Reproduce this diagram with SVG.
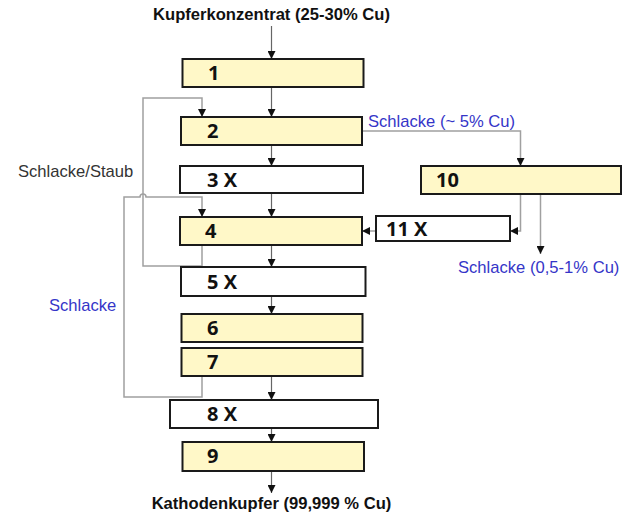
<svg xmlns="http://www.w3.org/2000/svg" width="632" height="531" viewBox="0 0 632 531">
<defs>
<marker id="ah" markerUnits="userSpaceOnUse" markerWidth="8" markerHeight="8" viewBox="0 0 8 8" refX="8" refY="4" orient="auto">
<path d="M0,0 L8,4 L0,8 Z" fill="#111"/>
</marker>
<style>
.box{stroke:#1a1a1a;stroke-width:2}
.y{fill:#FFF8C8}
.w{fill:#fff}
.lbl{font-family:"Open Sans","Liberation Sans",sans-serif;font-weight:700;font-size:20px;fill:#111}
.ttl{font-family:"Liberation Sans",Arial,sans-serif;font-weight:700;font-size:16.6px;fill:#111}
.side{font-family:"Liberation Sans",Arial,sans-serif;font-size:16.6px;fill:#333}
.blue{fill:#3535C8}
.c{fill:none;stroke:#666;stroke-width:1.2}
.g{fill:none;stroke:#a0a0a0;stroke-width:1.5}
</style>
</defs>
<rect width="632" height="531" fill="#fff"/>

<g id="connectors">
<path class="c" d="M271.5,26 V59" marker-end="url(#ah)"/>
<path class="c" d="M271.5,87 V117" marker-end="url(#ah)"/>
<path class="c" d="M271.5,145 V166" marker-end="url(#ah)"/>
<path class="c" d="M271.5,193 V217" marker-end="url(#ah)"/>
<path class="c" d="M271.5,245 V267" marker-end="url(#ah)"/>
<path class="c" d="M271.5,296 V314" marker-end="url(#ah)"/>
<path class="c" d="M271.5,376 V400" marker-end="url(#ah)"/>
<path class="c" d="M271.5,428 V442" marker-end="url(#ah)"/>
<path class="c" d="M271.5,471 V493" marker-end="url(#ah)"/>
<path class="g" d="M202,245 V266 H143 V98 H202 V117" marker-end="url(#ah)"/>
<path class="g" d="M202,376 V397 H124 V197 H140 A3,3 0 0 1 146,197 H202 V217" marker-end="url(#ah)"/>
<path class="g" d="M362,131 H520.5 V166" marker-end="url(#ah)"/>
<path class="g" d="M520.5,194 V231 H510" marker-end="url(#ah)"/>
<path class="g" d="M540.5,194 V254" marker-end="url(#ah)"/>
<path class="g" d="M376,231 H362" marker-end="url(#ah)"/>
</g>

<text class="ttl" x="271.5" y="20" text-anchor="middle">Kupferkonzentrat (25-30% Cu)</text>
<text class="ttl" x="271.5" y="509" text-anchor="middle">Kathodenkupfer (99,999 % Cu)</text>
<text class="side" x="18" y="177">Schlacke/Staub</text>
<text class="side blue" x="49" y="311">Schlacke</text>
<text class="side blue" x="368" y="127">Schlacke (~ 5% Cu)</text>
<text class="side blue" x="458" y="273">Schlacke (0,5-1% Cu)</text>

<g id="n1"><rect class="box y" x="182.5" y="59" width="181" height="28"/><text class="lbl" x="208" y="80">1</text></g>
<g id="n2"><rect class="box y" x="181" y="117" width="181" height="28"/><text class="lbl" x="207" y="138">2</text></g>
<g id="n3"><rect class="box w" x="180" y="166" width="183" height="27"/><text class="lbl" x="207" y="187">3 X</text></g>
<g id="n4"><rect class="box y" x="180" y="217" width="182" height="28"/><text class="lbl" x="205" y="238">4</text></g>
<g id="n5"><rect class="box w" x="181" y="267" width="184.5" height="29"/><text class="lbl" x="207" y="289">5 X</text></g>
<g id="n6"><rect class="box y" x="181.5" y="314" width="181" height="28"/><text class="lbl" x="207" y="335">6</text></g>
<g id="n7"><rect class="box y" x="181.5" y="348" width="181" height="28"/><text class="lbl" x="207" y="369">7</text></g>
<g id="n8"><rect class="box w" x="170" y="400" width="208" height="28"/><text class="lbl" x="207" y="421">8 X</text></g>
<g id="n9"><rect class="box y" x="182.5" y="442" width="181.5" height="29"/><text class="lbl" x="207" y="463">9</text></g>
<g id="n10"><rect class="box y" x="421" y="166" width="200" height="28"/><text class="lbl" x="436" y="187">10</text></g>
<g id="n11"><rect class="box w" x="376" y="216" width="134" height="25"/><text class="lbl" x="386" y="236">11 X</text></g>
</svg>
